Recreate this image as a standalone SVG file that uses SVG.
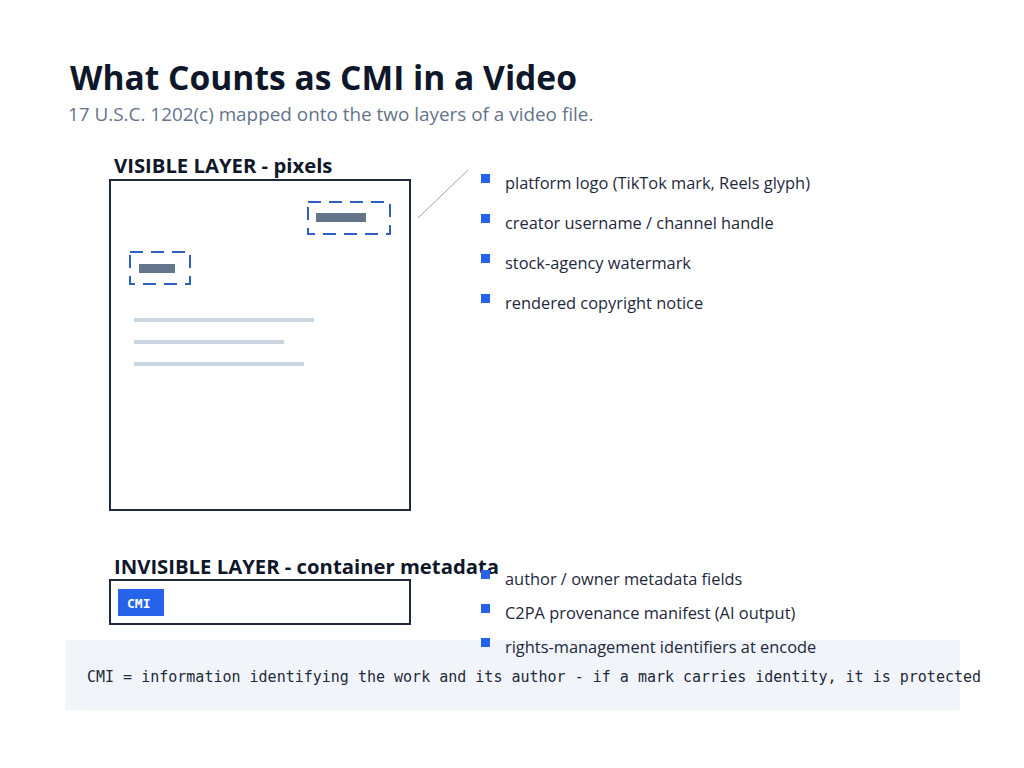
<svg xmlns="http://www.w3.org/2000/svg" width="1024" height="768" viewBox="0 0 1024 768">
<style>
.title{font-family:"Open Sans","Noto Sans",sans-serif;font-weight:700;font-size:33.6px;fill:#0f172a}
.sub{font-family:"Open Sans","Noto Sans",sans-serif;font-size:18.9px;fill:#64748b}
.head{font-family:"Open Sans","Noto Sans",sans-serif;font-weight:700;font-size:20.3px;fill:#0f172a}
.item{font-family:"Open Sans","Noto Sans",sans-serif;font-size:16.4px;fill:#1e293b}
.frame{fill:#fff;stroke:#1e293b;stroke-width:2}
.dash{fill:none;stroke:#2f5fc4;stroke-width:2;stroke-dasharray:13 8}
.bar{fill:#64748b}
.line{stroke:#cbd5e1;stroke-width:4}
.bullet{fill:#2563eb}
.mono{font-family:"DejaVu Sans Mono","Liberation Mono",monospace;font-size:15px;fill:#1e293b}
</style>
<rect width="1024" height="768" fill="#fff"/>
<g id="header">
<text class="title" x="70" y="90">What Counts as CMI in a Video</text>
<text class="sub" x="68" y="121">17 U.S.C. 1202(c) mapped onto the two layers of a video file.</text>
</g>
<g id="footer">
<rect x="65" y="640" width="895" height="70" fill="#f1f5f9"/>
<text class="mono" x="87" y="682">CMI = information identifying the work and its author - if a mark carries identity, it is protected</text>
</g>
<g id="visible-layer">
<text class="head" x="114" y="173">VISIBLE LAYER - pixels</text>
<rect class="frame" x="110" y="180" width="300" height="330"/>
<rect class="dash" x="308" y="202" width="82" height="32"/>
<rect class="bar" x="316" y="213" width="50" height="9"/>
<rect class="dash" x="130" y="252" width="60" height="32"/>
<rect class="bar" x="139" y="264" width="36" height="9"/>
<line class="line" x1="134" y1="320" x2="314" y2="320"/>
<line class="line" x1="134" y1="342" x2="284" y2="342"/>
<line class="line" x1="134" y1="364" x2="304" y2="364"/>
</g>
<g id="connectors">
<line x1="418" y1="218" x2="468" y2="170" stroke="#9ca3af" stroke-width="1"/>
</g>
<g id="visible-list">
<rect class="bullet" x="481" y="174" width="9" height="9"/>
<text class="item" x="505" y="189">platform logo (TikTok mark, Reels glyph)</text>
<rect class="bullet" x="481" y="214" width="9" height="9"/>
<text class="item" x="505" y="229">creator username / channel handle</text>
<rect class="bullet" x="481" y="254" width="9" height="9"/>
<text class="item" x="505" y="269">stock-agency watermark</text>
<rect class="bullet" x="481" y="294" width="9" height="9"/>
<text class="item" x="505" y="309">rendered copyright notice</text>
</g>
<g id="invisible-layer">
<text class="head" x="114" y="574">INVISIBLE LAYER - container metadata</text>
<rect class="frame" x="110" y="580" width="300" height="44"/>
<rect x="118" y="589" width="46" height="27" fill="#2563eb"/>
<text x="127" y="608" font-family="DejaVu Sans Mono,Liberation Mono,monospace" font-size="13" font-weight="700" fill="#fff">CMI</text>
</g>
<g id="invisible-list">
<rect class="bullet" x="481" y="570" width="9" height="9"/>
<text class="item" x="505" y="585">author / owner metadata fields</text>
<rect class="bullet" x="481" y="604" width="9" height="9"/>
<text class="item" x="505" y="619">C2PA provenance manifest (AI output)</text>
<rect class="bullet" x="481" y="638" width="9" height="9"/>
<text class="item" x="505" y="653">rights-management identifiers at encode</text>
</g>
</svg>
